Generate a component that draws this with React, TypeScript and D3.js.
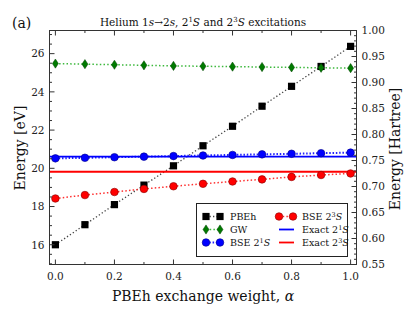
import React from 'react';
import * as d3 from 'd3';

const alphas = [0, 0.1, 0.2, 0.3, 0.4, 0.5, 0.6, 0.7, 0.8, 0.9, 1.0];
const pbeh = [16.0, 17.05, 18.1, 19.12, 20.13, 21.18, 22.2, 23.25, 24.29, 25.33, 26.38];
const gw = [25.48, 25.45, 25.42, 25.39, 25.36, 25.34, 25.32, 25.30, 25.28, 25.26, 25.24];
const bse1 = [20.52, 20.55, 20.58, 20.61, 20.64, 20.67, 20.70, 20.73, 20.76, 20.79, 20.82];
const bse3 = [18.42, 18.6, 18.76, 18.92, 19.06, 19.19, 19.31, 19.42, 19.55, 19.65, 19.73];
const exact1 = 20.616;
const exact3 = 19.82;
const HARTREE = 27.2114;
const xMajor = [0, 0.2, 0.4, 0.6, 0.8, 1.0];
const xMinor = [0.1, 0.3, 0.5, 0.7, 0.9];
const yMajor = [16, 18, 20, 22, 24, 26];
const hMajor = [0.55, 0.6, 0.65, 0.7, 0.75, 0.8, 0.85, 0.9, 0.95, 1.0];

const W = 415, H = 312;
const L = 49.5, R = 356.5, T = 30.5, B = 264.5;
const FONT = "'DejaVu Serif', 'Liberation Serif', serif";
const AX = '#333';

const x = d3.scaleLinear().domain([-0.02, 1.02]).range([L, R]);
const y = d3.scaleLinear().domain([0.55 * HARTREE, 1.0 * HARTREE]).range([B, T]);
const yh = d3.scaleLinear().domain([0.55, 1.0]).range([B, T]);

const GREEN = '#007a00';
const GREEN_L = '#3cb83c';

function Square({ cx, cy }: { cx: number; cy: number }) {
  return <rect x={cx - 3.6} y={cy - 3.6} width={7.2} height={7.2} fill="#000" />;
}
function Diamond({ cx, cy }: { cx: number; cy: number }) {
  return <path d={`M${cx},${cy - 4.6}L${cx + 3},${cy}L${cx},${cy + 4.6}L${cx - 3},${cy}Z`} fill={GREEN} stroke="#004000" strokeWidth={0.5} />;
}
function Circle({ cx, cy, c, e }: { cx: number; cy: number; c: string; e: string }) {
  return <circle cx={cx} cy={cy} r={3.8} fill={c} stroke={e} strokeWidth={0.6} />;
}

const line = d3.line<number>().x((_, i) => x(alphas[i])).y((d) => y(d));

export default function App() {
  const yMinor = d3.range(15, 27.3, 0.5).filter((v) => y(v) > T && y(v) < B && !yMajor.includes(v));
  const hMinor = d3.range(55, 101, 1).map((v) => v / 100).filter((v) => Math.round(v * 100) % 5 !== 0);

  return (
    <svg width={W} height={H} style={{ position: 'absolute', left: 0, top: 0, background: '#fff', fontFamily: FONT }}>
      {/* data lines */}
      <path d={line(pbeh) || ''} fill="none" stroke="#444" strokeWidth={1.3} strokeDasharray="1.3,2.2" />
      <path d={line(gw) || ''} fill="none" stroke={GREEN_L} strokeWidth={1.5} strokeDasharray="1.5,2.2" />
      <path d={line(bse1) || ''} fill="none" stroke="#2222ff" strokeWidth={2} strokeDasharray="1.5,1.8" />
      <path d={line(bse3) || ''} fill="none" stroke="#ff3030" strokeWidth={1.5} strokeDasharray="1.5,2.2" />
      <line x1={L} x2={R} y1={y(exact1)} y2={y(exact1)} stroke="#0000ff" strokeWidth={1.8} />
      <line x1={L} x2={R} y1={y(exact3)} y2={y(exact3)} stroke="#ff0000" strokeWidth={1.8} />
      {pbeh.map((v, i) => <Square key={'p' + i} cx={x(alphas[i])} cy={y(v)} />)}
      {gw.map((v, i) => <Diamond key={'g' + i} cx={x(alphas[i])} cy={y(v)} />)}
      {bse1.map((v, i) => <Circle key={'b' + i} cx={x(alphas[i])} cy={y(v)} c="#0000ff" e="#000088" />)}
      {bse3.map((v, i) => <Circle key={'r' + i} cx={x(alphas[i])} cy={y(v)} c="#ff0000" e="#880000" />)}

      {/* frame */}
      <rect x={L} y={T} width={R - L} height={B - T} fill="none" stroke={AX} strokeWidth={1} />
      {/* x ticks */}
      {xMajor.map((v) => (
        <g key={'xm' + v}>
          <line x1={x(v)} x2={x(v)} y1={B} y2={B - 5} stroke={AX} />
          <line x1={x(v)} x2={x(v)} y1={T} y2={T + 5} stroke={AX} />
          <text x={x(v)} y={B + 15} textAnchor="middle" fontSize={10.5} fill="#222">{v.toFixed(1)}</text>
        </g>
      ))}
      {xMinor.map((v) => (
        <g key={'xn' + v}>
          <line x1={x(v)} x2={x(v)} y1={B} y2={B - 2.5} stroke={AX} />
          <line x1={x(v)} x2={x(v)} y1={T} y2={T + 2.5} stroke={AX} />
        </g>
      ))}
      {/* left ticks */}
      {yMajor.map((v) => (
        <g key={'ym' + v}>
          <line x1={L} x2={L + 5} y1={y(v)} y2={y(v)} stroke={AX} />
          <text x={L - 5} y={y(v) + 3.8} textAnchor="end" fontSize={10.5} fill="#222">{v}</text>
        </g>
      ))}
      {yMinor.map((v) => (
        <line key={'yn' + v} x1={L} x2={L + 2.5} y1={y(v)} y2={y(v)} stroke={AX} />
      ))}
      {/* right ticks */}
      {hMajor.map((v) => (
        <g key={'hm' + v}>
          <line x1={R} x2={R - 5} y1={yh(v)} y2={yh(v)} stroke={AX} />
          <text x={R + 5} y={yh(v) + 3.8} textAnchor="start" fontSize={10.5} fill="#222">{v.toFixed(2)}</text>
        </g>
      ))}
      {hMinor.map((v) => (
        <line key={'hn' + v} x1={R} x2={R - 2.5} y1={yh(v)} y2={yh(v)} stroke={AX} />
      ))}

      {/* title */}
      <text x={203} y={26} textAnchor="middle" fontSize={10.5} fill="#111">
        Helium 1<tspan fontStyle="italic">s</tspan>→2<tspan fontStyle="italic">s</tspan>, 2<tspan dy={-4} fontSize={7}>1</tspan><tspan dy={4} fontStyle="italic">S</tspan> and 2<tspan dy={-4} fontSize={7}>3</tspan><tspan dy={4} fontStyle="italic">S</tspan> excitations
      </text>
      <text x={12} y={28} fontSize={14} fill="#111">(a)</text>

      {/* axis labels */}
      <text x={203} y={301} textAnchor="middle" fontSize={14} fill="#111">
        PBEh exchange weight, <tspan fontStyle="italic">α</tspan>
      </text>
      <text transform={`translate(25,148) rotate(-90)`} textAnchor="middle" fontSize={14} fill="#111">Energy [eV]</text>
      <text transform={`translate(400,149) rotate(-90)`} textAnchor="middle" fontSize={14} fill="#111">Energy [Hartree]</text>

      {/* legend */}
      <rect x={196.5} y={203.5} width={151} height={53} fill="#fff" stroke="#222" strokeWidth={1} />
      <g>
        <line x1={206} x2={220} y1={216.5} y2={216.5} stroke="#444" strokeWidth={1.3} strokeDasharray="1.3,2.2" />
        <Square cx={206} cy={216.5} />
        <Square cx={220} cy={216.5} />
        <text x={230} y={220} fontSize={9.5} fill="#111">PBEh</text>

        <line x1={206} x2={220} y1={229.5} y2={229.5} stroke={GREEN_L} strokeWidth={1.5} strokeDasharray="1.5,2.2" />
        <Diamond cx={206} cy={229.5} />
        <Diamond cx={220} cy={229.5} />
        <text x={230} y={233} fontSize={9.5} fill="#111">GW</text>

        <line x1={206} x2={220} y1={242.5} y2={242.5} stroke="#2222ff" strokeWidth={2} strokeDasharray="1.5,1.8" />
        <Circle cx={206} cy={242.5} c="#0000ff" e="#000088" />
        <Circle cx={220} cy={242.5} c="#0000ff" e="#000088" />
        <text x={230} y={246} fontSize={9.5} fill="#111">BSE 2<tspan dy={-3.5} fontSize={6.5}>1</tspan><tspan dy={3.5} fontStyle="italic">S</tspan></text>

        <line x1={279} x2={293} y1={216.5} y2={216.5} stroke="#ff3030" strokeWidth={1.5} strokeDasharray="1.5,2.2" />
        <Circle cx={279} cy={216.5} c="#ff0000" e="#880000" />
        <Circle cx={293} cy={216.5} c="#ff0000" e="#880000" />
        <text x={302} y={220} fontSize={9.5} fill="#111">BSE 2<tspan dy={-3.5} fontSize={6.5}>3</tspan><tspan dy={3.5} fontStyle="italic">S</tspan></text>

        <line x1={279} x2={294} y1={229.5} y2={229.5} stroke="#0000ff" strokeWidth={1.8} />
        <text x={302} y={233} fontSize={9.5} fill="#111">Exact 2<tspan dy={-3.5} fontSize={6.5}>1</tspan><tspan dy={3.5} fontStyle="italic">S</tspan></text>

        <line x1={279} x2={294} y1={242.5} y2={242.5} stroke="#ff0000" strokeWidth={1.8} />
        <text x={302} y={246} fontSize={9.5} fill="#111">Exact 2<tspan dy={-3.5} fontSize={6.5}>3</tspan><tspan dy={3.5} fontStyle="italic">S</tspan></text>
      </g>
    </svg>
  );
}
